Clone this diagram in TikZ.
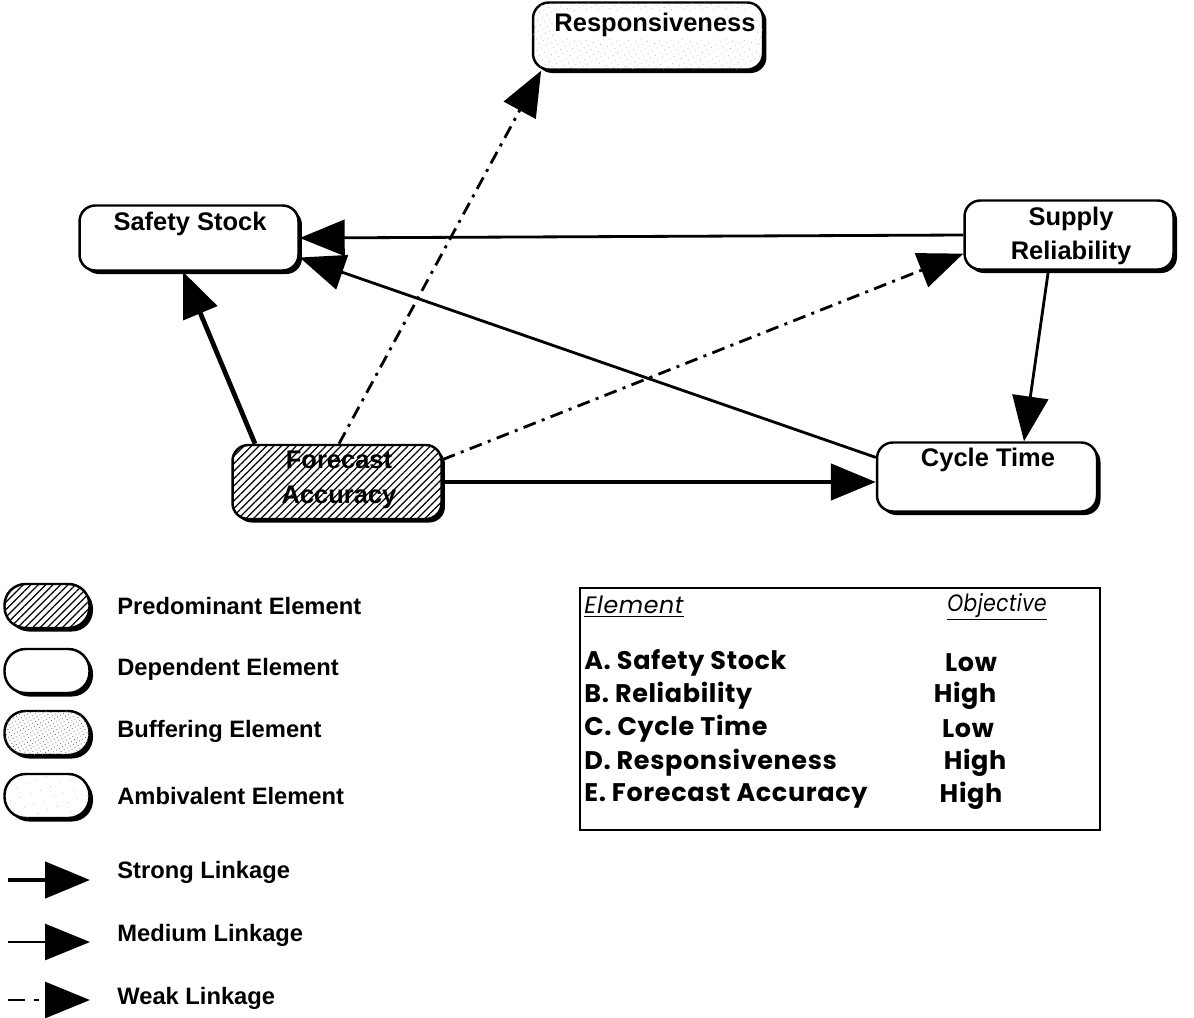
\documentclass[tikz,border=0pt]{standalone}
\usepackage{fontspec}
\setmainfont{Liberation Sans}
\newfontfamily\tabfont{Poppins}[LetterSpace=2.5]
\usetikzlibrary{arrows.meta,shadows,patterns,patterns.meta}

\tikzset{
  elem/.style={draw, line width=1.4pt, rounded corners=9pt, fill=white,
    drop shadow={shadow xshift=2pt, shadow yshift=-2pt, fill=black, opacity=1}},
  legshape/.style={elem, rounded corners=12pt, minimum width=1.7cm, minimum height=0.88cm},
  hatched/.style={postaction={pattern={Lines[angle=45,distance=3pt,line width=0.7pt]}}},
  speckled/.style={postaction={pattern={Dots[angle=30,distance=2pt,radius=0.35pt]}, pattern color=black!55}},
  lightspeckle/.style={postaction={pattern={Dots[angle=30,distance=3pt,radius=0.3pt]}, pattern color=black!30}},
  faintdots/.style={postaction={pattern={Dots[angle=20,distance=6pt,radius=0.3pt]}, pattern color=black!30}},
  lab/.style={font=\fontsize{14.5}{17}\selectfont\bfseries, inner sep=0pt},
  legtxt/.style={font=\fontsize{13.5}{16}\selectfont\bfseries, anchor=west, inner sep=0pt},
  tabtxt/.style={font=\tabfont\bfseries\fontsize{14.5}{17}\selectfont, inner sep=0pt},
  tabhead/.style={font=\tabfont\itshape\fontsize{13.5}{16}\selectfont, inner sep=0pt},
  head/.style={-{Triangle[length=0.9cm,width=0.72cm]}},
  strong/.style={head, line width=2.7pt},
  medium/.style={head, line width=1.6pt},
  weak/.style={head, line width=1.6pt,
    dash pattern=on 0.26cm off 0.13cm on 0.06cm off 0.13cm},
}

\begin{document}
\begin{tikzpicture}[x=0.02cm, y=-0.02cm]
\useasboundingbox (0,0) rectangle (1194,1018);

% ---- elements ----
\node[elem, lightspeckle, minimum width=4.6cm, minimum height=1.34cm] (resp) at (648,36) {};
\node[lab, fill=white, inner sep=1pt] (respT) at (655,25) {Responsiveness};

\node[elem, minimum width=4.38cm, minimum height=1.3cm] (ss) at (189,238) {};
\node[lab] (ssT) at (190,224) {Safety Stock};

\node[elem, minimum width=4.18cm, minimum height=1.38cm] (sr) at (1069,235) {};
\node[lab, align=center] (srT) at (1071,236) {Supply\\[2.5pt]Reliability};

\node[elem, hatched, minimum width=4.18cm, minimum height=1.48cm] (fa) at (337,482) {};
\node[lab, align=center] (faT) at (339,480) {Forecast\\[2.5pt]Accuracy};

\node[elem, minimum width=4.4cm, minimum height=1.38cm] (ct) at (987,477) {};
\node[lab] (ctT) at (988,460) {Cycle Time};

% ---- linkages ----
\draw[medium] (sr.west) -- (ss.east);
\draw[medium] (ct.170) -- (ss.-10);
\draw[strong] (fa.155) -- ([xshift=-0.12cm]ss.south);
\draw[weak] ([xshift=0.04cm]fa.north) -- (resp.198);
\draw[weak] (fa.12) -- (sr.190);
\draw[strong] (fa.east) -- (fa.east -| ct.west);
\draw[medium] (sr.-120) -- (ct.44);

% ---- legend: element types ----
\node[legshape, hatched] (lp) at (47,606) {};
\node[legtxt] (lpT) at (117,606) {Predominant Element};
\node[legshape] (ld) at (47,671) {};
\node[legtxt] (ldT) at (117,669) {Dependent Element};
\node[legshape, speckled] (lb) at (47,733) {};
\node[legtxt] (lbT) at (117,731) {Buffering Element};
\node[legshape, faintdots] (la) at (47,796) {};
\node[legtxt] (laT) at (117,796) {Ambivalent Element};

% ---- legend: linkage types ----
\coordinate (s1) at (8,880);  \coordinate (s2) at (90,880);
\draw[strong] (s1) -- (s2);
\node[legtxt] (lsT) at (117,872) {Strong Linkage};
\coordinate (m1) at (8,942);  \coordinate (m2) at (90,942);
\draw[medium] (m1) -- (m2);
\node[legtxt] (lmT) at (117,935) {Medium Linkage};
\coordinate (w1) at (8,1000); \coordinate (w2) at (90,1000);
\draw[weak, dash pattern=on 0.34cm off 0.18cm on 0.1cm off 0.18cm] (w1) -- (w2);
\node[legtxt] (lwT) at (117,998) {Weak Linkage};

% ---- objectives table ----
\node[draw, line width=1.2pt, minimum width=10.4cm, minimum height=4.84cm, inner sep=0pt] (tab) at (840,709) {};
\node[tabhead, anchor=west] (hE) at (584,607) {\underline{Element}};
\node[tabhead, xscale=0.85, transform shape] (hO) at (997,607) {\underline{Objective}};
\node[tabtxt, anchor=west] (rA) at (584,663) {A. Safety Stock};
\node[tabtxt, anchor=west] (rB) at (584,696) {B. Reliability};
\node[tabtxt, anchor=west] (rC) at (584,729) {C. Cycle Time};
\node[tabtxt, anchor=west] (rD) at (584,763) {D. Responsiveness};
\node[tabtxt, anchor=west] (rE) at (584,796) {E. Forecast Accuracy};
\node[tabtxt] (oA) at (971,663) {Low};
\node[tabtxt] (oB) at (965,696) {High};
\node[tabtxt] (oC) at (968,729) {Low};
\node[tabtxt] (oD) at (975,763) {High};
\node[tabtxt] (oE) at (971,796) {High};
\end{tikzpicture}
\end{document}
